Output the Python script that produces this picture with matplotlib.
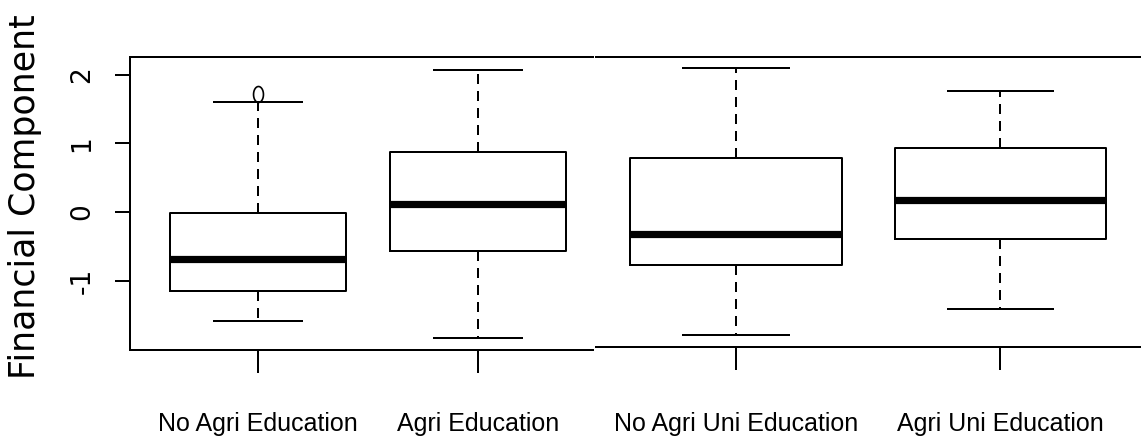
import numpy as np
import matplotlib
matplotlib.use('Agg')
import matplotlib.pyplot as plt
from matplotlib.path import Path

plt.rcParams['axes.unicode_minus'] = False

# group labels
labels_left = ['No Agri Education', 'Agri Education']
labels_right = ['No Agri Uni Education', 'Agri Uni Education']

# box stats
left_whislo = [-1.58, -1.83]
left_q1 = [-1.15, -0.57]
left_med = [-0.68, 0.12]
left_q3 = [-0.02, 0.88]
left_whishi = [1.60, 2.07]
left_fliers = [[1.72], []]

right_whislo = [-1.79, -1.41]
right_q1 = [-0.77, -0.39]
right_med = [-0.32, 0.18]
right_q3 = [0.79, 0.93]
right_whishi = [2.10, 1.76]
right_fliers = [[], []]

yticks = [-1, 0, 1, 2]
ytick_labels = ['-1', '0', '1', '2']

W, H = 1141, 443
fig = plt.figure(figsize=(W / 100, H / 100), dpi=100)


def px_axes(x0, x1, y0, y1):
    return fig.add_axes([x0 / W, 1 - y1 / H, (x1 - x0) / W, (y1 - y0) / H])


def make_stats(lo, q1, med, q3, hi, fl, labels):
    out = []
    for i in range(len(labels)):
        out.append(dict(whislo=lo[i], q1=q1[i], med=med[i], q3=q3[i],
                        whishi=hi[i], fliers=fl[i], label=labels[i]))
    return out


t = np.linspace(0, 2 * np.pi, 60)
ellipse = Path(np.column_stack([0.62 * np.cos(t), np.sin(t)]), closed=True)

lw = 1.44
style = dict(
    widths=0.8,
    capwidths=0.4,
    patch_artist=False,
    boxprops=dict(color='black', linewidth=lw),
    whiskerprops=dict(color='black', linewidth=lw, linestyle=(0, (5, 3.5))),
    capprops=dict(color='black', linewidth=lw),
    medianprops=dict(color='black', linewidth=5.2, solid_capstyle='butt'),
    flierprops=dict(marker=ellipse, markersize=11.5, markerfacecolor='none',
                    markeredgecolor='black', markeredgewidth=1.2),
)

xfont = dict(family='Liberation Sans', size=18)

# left panel
ax1 = px_axes(130, 593, 57, 350)
ax1.bxp(make_stats(left_whislo, left_q1, left_med, left_q3, left_whishi,
                   left_fliers, labels_left), positions=[1, 2], **style)
ax1.set_xlim(0.418, 2.523)
ax1.set_ylim(-2.009, 2.258)
ax1.set_yticks(yticks)
ax1.set_yticklabels(ytick_labels, rotation=90, va='center',
                    family='DejaVu Sans', fontsize=19)
ax1.set_xticks([1, 2])
ax1.set_xticklabels(labels_left, fontdict=xfont)
ax1.spines['right'].set_visible(False)
ax1.tick_params(axis='y', length=10.8, width=lw, pad=14)
ax1.tick_params(axis='x', length=16.6, width=lw, pad=28)

# right panel (cropped on both sides like the original)
ax2 = px_axes(596, 1141, 57, 347)
ax2.bxp(make_stats(right_whislo, right_q1, right_med, right_q3, right_whishi,
                   right_fliers, labels_right), positions=[1, 2], **style)
ax2.set_xlim(0.470, 2.532)
ax2.set_ylim(-1.965, 2.258)
ax2.set_xticks([1, 2])
ax2.set_xticklabels(labels_right, fontdict=xfont)
ax2.spines['right'].set_visible(False)
ax2.spines['left'].set_visible(False)
ax2.tick_params(axis='y', left=False, labelleft=False)
ax2.tick_params(axis='x', length=16.6, width=lw, pad=30)

for ax in (ax1, ax2):
    for s in ax.spines.values():
        s.set_linewidth(lw)

fig.text(25 / W, 1 - 197 / H, 'Financial Component', rotation=90,
         ha='center', va='center', fontsize=25, family='DejaVu Sans')

fig.savefig('out.png', dpi=100)
